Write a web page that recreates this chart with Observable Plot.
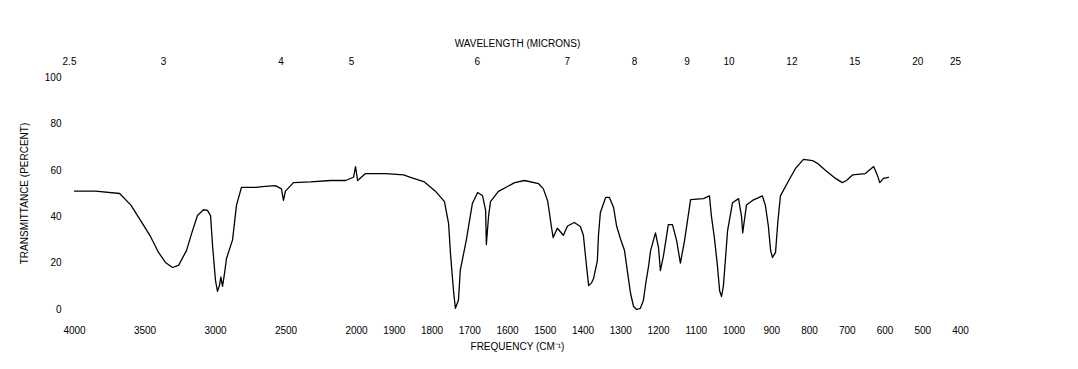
<!DOCTYPE html>
<html>
<head>
<meta charset="utf-8">
<script src="https://cdn.jsdelivr.net/npm/d3@7"></script>
<script src="https://cdn.jsdelivr.net/npm/@observablehq/plot@0.6"></script>
<style>
  html, body { margin: 0; padding: 0; background: #fff; }
  #chart svg { display: block; }
</style>
</head>
<body>
<div id="chart"></div>
<script>
// Spectrum: wavenumber (cm⁻¹) and transmittance (%)
const wavenumber = [
  4000, 3850, 3680, 3600, 3532, 3461, 3404, 3355, 3305, 3262, 3206, 3163, 3128, 3085, 3057,
  3035, 3021, 3000, 2986, 2972, 2962, 2950, 2935, 2922, 2879, 2851, 2816, 2716, 2667, 2575,
  2532, 2518, 2504, 2447, 2326, 2184, 2078, 2021, 2007, 1997, 1976, 1923, 1875, 1857, 1820,
  1791, 1767, 1756, 1751, 1743, 1738, 1730, 1725, 1709, 1693, 1679, 1666, 1658, 1656, 1650,
  1645, 1624, 1581, 1555, 1518, 1505, 1494, 1489, 1484, 1479, 1468, 1452, 1441, 1423, 1407,
  1399, 1393, 1388, 1385, 1377, 1372, 1362, 1359, 1354, 1340, 1330, 1319, 1311, 1301, 1290,
  1282, 1274, 1266, 1258, 1248, 1240, 1234, 1226, 1221, 1208, 1200, 1195, 1187, 1174, 1163,
  1152, 1142, 1131, 1115, 1081, 1065, 1060, 1052, 1044, 1038, 1033, 1028, 1017, 1004, 988,
  980, 977, 967, 951, 925, 917, 909, 903, 898, 890, 884, 877, 855, 837, 816,
  792, 779, 758, 731, 713, 702, 686, 652, 630, 620, 614, 604, 591
];
const transmittance = [
  51, 51, 50, 45, 38.4, 31.5, 24.6, 20.3, 18.1, 19, 25.4, 34, 40.5, 43, 42.7,
  40.5, 27.6, 12.5, 7.8, 10.3, 14, 10, 16, 22, 30, 45, 52.6, 52.6, 53, 53.4,
  52, 47, 51, 54.7, 55, 55.6, 55.6, 57, 61.6, 55.6, 58.6, 58.6, 58, 57, 55,
  51, 46.5, 37, 24, 8, 0.5, 4, 17, 30, 45.7, 50.4, 49, 42.7, 28, 40.5,
  46.5, 50.9, 54.7, 55.6, 54.3, 52, 47, 41.8, 36, 31, 35, 32, 36, 37.5, 35.8,
  32, 22.4, 14.7, 10.3, 11.6, 13.4, 21, 32, 41.8, 48.3, 48.3, 44, 36, 30.6, 25.4,
  16, 6.9, 1.3, 0, 0.5, 3.9, 11, 19, 25.4, 33, 26.7, 16.8, 23, 36.6, 36.6,
  29.7, 20, 29.7, 47.4, 47.8, 49, 40.5, 31, 19, 8, 5.6, 10.3, 34, 46, 47.8,
  40, 33, 45, 47, 49, 45, 36, 25.4, 22.4, 24.6, 37.5, 49, 55.6, 60.8, 64.7,
  64.2, 63, 60, 56.5, 54.7, 55.6, 58, 58.6, 61.6, 57.8, 54.7, 56.5, 57
];

// Axis tick values and labels
const frequencyTicks = [4000, 3500, 3000, 2500, 2000, 1900, 1800, 1700, 1600, 1500, 1400, 1300, 1200, 1100, 1000, 900, 800, 700, 600, 500, 400];
const micronLabels = ["2.5", "3", "4", "5", "6", "7", "8", "9", "10", "12", "15", "20", "25"];
const transmittanceTicks = [0, 20, 40, 60, 80, 100];

const spectrum = wavenumber.map((w, i) => ({w, t: transmittance[i]}));
const micronTicks = micronLabels.map(m => 10000 / +m);

const chart = Plot.plot({
  width: 1078,
  height: 369,
  marginLeft: 74,
  marginRight: 118,
  marginTop: 77,
  marginBottom: 60,
  style: {fontFamily: "'Liberation Sans', Arial, sans-serif", fontSize: "10px", color: "#000", background: "#fff"},
  x: {type: "linear", domain: [4000, 2000, 400], range: [74, 356, 960]},
  y: {type: "linear", domain: [0, 100], range: [309, 77]},
  marks: [
    Plot.axisX(frequencyTicks, {
      anchor: "bottom", tickSize: 0, tickPadding: 17,
      tickFormat: d => String(d),
      label: "FREQUENCY (CM⁻¹)", labelAnchor: "center", labelOffset: 40, labelArrow: false
    }),
    Plot.axisX(micronTicks, {
      anchor: "top", tickSize: 0, tickPadding: 13, dx: -5,
      tickFormat: (d, i) => micronLabels[i],
      label: "WAVELENGTH (MICRONS)", labelAnchor: "center", labelOffset: 38, labelArrow: false
    }),
    Plot.axisY(transmittanceTicks, {
      anchor: "left", tickSize: 0, tickPadding: 13,
      label: "TRANSMITTANCE (PERCENT)", labelAnchor: "center", labelOffset: 54, labelArrow: false
    }),
    Plot.line(spectrum, {x: "w", y: "t", stroke: "#000", strokeWidth: 1.3})
  ]
});
document.getElementById("chart").appendChild(chart);
</script>
</body>
</html>
